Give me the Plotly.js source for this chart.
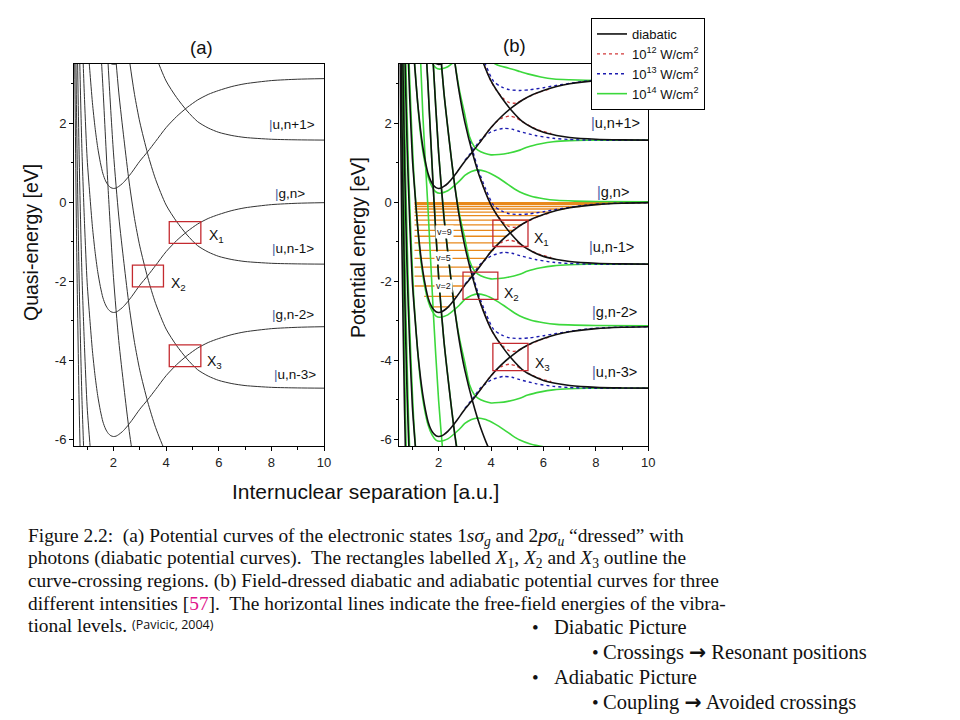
<!DOCTYPE html>
<html><head><meta charset="utf-8">
<script src="https://cdn.plot.ly/plotly-3.0.1.min.js"></script>
<style>body{margin:0;background:#fff}#chart{width:960px;height:720px}</style>
</head><body><div id="chart"></div>
<script>
// ---------- data ----------
// 1s sigma_g curve, energy relative to its dissociation limit (eV)
const G_R = [0.5,0.6,0.7,0.8,0.9,1.0,1.1,1.2,1.3,1.4,1.5,1.6,1.7,1.8,1.9,2.0,2.1,2.2,2.35,2.5,2.7,3.0,3.3,3.6,4.0,4.4,4.8,5.2,5.6,6.0,6.5,7.0,8.0,9.0,10.0];
const G_E = [18,11.5,7.3,4.5,2.6,1.1,0.2,-0.62,-1.25,-1.75,-2.13,-2.42,-2.6,-2.71,-2.77,-2.79,-2.78,-2.74,-2.66,-2.55,-2.38,-2.1,-1.86,-1.6,-1.25,-0.97,-0.74,-0.55,-0.41,-0.31,-0.21,-0.14,-0.06,-0.025,-0.01];
// 2p sigma_u curve, relative to its dissociation limit (eV)
const U_R = [0.5,0.6,0.8,1.0,1.2,1.4,1.6,1.8,2.0,2.2,2.4,2.6,2.8,3.0,3.3,3.6,4.0,4.4,4.8,5.2,5.6,6.0,6.5,7.0,8.0,9.0,10.0];
const U_E = [45,38,29,23.5,19.5,16.3,13.9,11.3,9.1,7.5,6.3,5.2,4.3,3.6,2.8,2.15,1.5,1.08,0.74,0.47,0.31,0.2,0.12,0.07,0.025,0.01,0.004];
// photon-dressed asymptotes (eV)
const G_LEVELS = [6.28, 3.14, 0, -3.14, -6.28, -9.42, -12.56];
const U_LEVELS = [1.57, -1.57, -4.71, -7.85, -11.0];
// 10^14 W/cm2 adiabatic shapes (relative to the g level of the well)
const GA_R = [0.55,0.65,0.75,0.85,0.95,1.05,1.15,1.3,1.45,1.6,1.75,1.9,2.04,2.2,2.35,2.6,2.8,3.0,3.25,3.5,3.8,4.14,4.5,4.8,5.1,5.5,6.0,6.5,7.2,8.0,10.0];
const GA_E = [17,10.8,6.7,4.0,2.2,0.75,-0.2,-1.35,-2.05,-2.5,-2.75,-2.88,-2.91,-2.89,-2.85,-2.72,-2.6,-2.46,-2.36,-2.32,-2.36,-2.47,-2.62,-2.76,-2.88,-2.98,-3.05,-3.09,-3.11,-3.12,-3.13];
const GA_LEVELS = [3.14, 0, -3.14, -6.28, -9.42, -12.56];
const GA_TOP_LEVEL = 6.28, GA_TOP_MAXR = 3.0;
const GB_R = [1.2,1.4,1.6,1.8,2.0,2.2,2.4,2.6,2.8,2.99,3.18,3.35,3.5,3.75,4.0,4.3,4.64,5.1,5.4,5.9,6.37,7.0,7.65,10.0];
const GB_E = [14.8,11.6,9.2,6.6,4.4,2.8,1.6,0.5,-0.32,-0.89,-1.48,-1.72,-1.82,-1.9,-1.94,-1.93,-1.9,-1.82,-1.74,-1.66,-1.61,-1.58,-1.57,-1.57];
const GB_LEVELS = [3.14, 0, -3.14, -6.28, -9.42];
const G1_R = [3.9,4.26,4.65,5.1,5.4,5.9,6.4,7.0,7.6,8.5,10];
const G1_E = [3.6,3.47,3.40,3.31,3.25,3.17,3.12,3.10,3.09,3.08,3.08];
// 10^13 and 10^12 W/cm2 branches at the one-photon crossings (relative to upper g level)
const BU_R = [3.2,3.5,3.8,4.1,4.4,4.7,5.1,5.5,6.0,6.5,7.1,7.65,8.5,10];
const BU_E = [1.55,0.85,0.33,-0.08,-0.22,-0.29,-0.31,-0.29,-0.24,-0.18,-0.12,-0.07,-0.03,-0.01];
const BL_R = [3.0,3.3,3.6,4.0,4.47,4.8,5.1,5.7,6.37,7.0,7.65,10];
const BL_E = [-2.08,-1.83,-1.56,-1.36,-1.27,-1.29,-1.35,-1.45,-1.52,-1.55,-1.565,-1.57];
const RU_R = [3.6,4.0,4.2,4.45,4.7,4.95,5.2,5.5,5.9,6.3];
const RU_E = [0.58,-0.08,-0.30,-0.50,-0.62,-0.63,-0.55,-0.45,-0.34,-0.26];
const RL_R = [3.6,3.9,4.2,4.45,4.7,4.95,5.2,5.5,5.9,6.3];
const RL_E = [-1.6,-1.33,-1.11,-1.0,-0.96,-1.0,-1.1,-1.22,-1.33,-1.40];
const CROSS_LEVELS = [3.14, 0, -3.14];
// vibrational levels (eV) and their extent in R
const VIB_E = [-2.65,-2.38,-2.12,-1.87,-1.64,-1.42,-1.22,-1.03,-0.86,-0.71,-0.57,-0.45,-0.34,-0.25,-0.17,-0.11,-0.06,-0.03,-0.01];
const VIB_L = [1.70,1.45,1.08,1.08,1.08,1.08,1.08,1.08,1.08,1.08,1.08,1.08,1.08,1.08,1.08,1.08,1.08,1.08,1.08];
const VIB_R = [2.42,2.68,2.98,3.29,3.58,3.85,4.1,4.35,4.6,4.85,5.15,5.45,5.85,6.3,6.8,7.4,8.2,9.2,10];
const X_TICKS = [2,4,6,8,10];
const Y_TICKS = [-6,-4,-2,0,2];
const Y_TICKTEXT = ['-6','-4','-2','0','2'];

// ---------- build ----------
const SANS = 'Liberation Sans, Arial, sans-serif';
const SERIF = 'Liberation Serif, Times New Roman, serif';
const C_GREEN = '#3cd83c', C_BLUE = '#1c1cb0', C_RED = '#d23a3a', C_ORANGE = '#e8891c';
const traces = [];
function add(xs, ys, xa, ya, line, extra) {
  traces.push(Object.assign({x: xs, y: ys, xaxis: xa, yaxis: ya, mode: 'lines',
    line: Object.assign({shape: 'spline', smoothing: 0.7}, line), showlegend: false, hoverinfo: 'skip'}, extra || {}));
}
function shifted(arr, L) { return arr.map(v => v + L); }

// panel (a): diabatic curves
G_LEVELS.forEach(L => add(G_R, shifted(G_E, L), 'x', 'y', {color: '#333', width: 1}));
U_LEVELS.forEach(L => add(U_R, shifted(U_E, L), 'x', 'y', {color: '#333', width: 1}));

// panel (b): vibrational levels
{
  const xs = [], ys = [];
  VIB_E.forEach((e, i) => { xs.push(VIB_L[i], VIB_R[i], null); ys.push(e, e, null); });
  traces.push({x: xs, y: ys, xaxis: 'x2', yaxis: 'y2', mode: 'lines', line: {color: C_ORANGE, width: 1.3}, showlegend: false, hoverinfo: 'skip'});
}
// 10^14 (green)
GA_LEVELS.forEach(L => add(GA_R, shifted(GA_E, L), 'x2', 'y2', {color: C_GREEN, width: 1.6}));
{
  const idx = GA_R.map((r, i) => i).filter(i => GA_R[i] <= GA_TOP_MAXR);
  add(idx.map(i => GA_R[i]), idx.map(i => GA_E[i] + GA_TOP_LEVEL), 'x2', 'y2', {color: C_GREEN, width: 1.6});
}
GB_LEVELS.forEach(L => add(GB_R, shifted(GB_E, L), 'x2', 'y2', {color: C_GREEN, width: 1.6}));
add(G1_R, G1_E, 'x2', 'y2', {color: C_GREEN, width: 1.6}, {showlegend: true, name: '10<sup>14</sup> W/cm<sup>2</sup>', legendrank: 4});
// 10^13 (blue dotted)
CROSS_LEVELS.forEach((L, k) => {
  add(BU_R, shifted(BU_E, L), 'x2', 'y2', {color: C_BLUE, width: 1.4, dash: 'dot'}, k === 0 ? {showlegend: true, name: '10<sup>13</sup> W/cm<sup>2</sup>', legendrank: 3} : {});
  add(BL_R, shifted(BL_E, L), 'x2', 'y2', {color: C_BLUE, width: 1.4, dash: 'dot'});
});
// 10^12 (red dotted)
CROSS_LEVELS.forEach((L, k) => {
  add(RU_R, shifted(RU_E, L), 'x2', 'y2', {color: C_RED, width: 1.3, dash: 'dot'}, k === 0 ? {showlegend: true, name: '10<sup>12</sup> W/cm<sup>2</sup>', legendrank: 2} : {});
  add(RL_R, shifted(RL_E, L), 'x2', 'y2', {color: C_RED, width: 1.3, dash: 'dot'});
});
// diabatic (black)
G_LEVELS.forEach((L, k) => add(G_R, shifted(G_E, L), 'x2', 'y2', {color: '#111', width: 1.6}, k === 1 ? {showlegend: true, name: 'diabatic', legendrank: 1} : {}));
U_LEVELS.forEach(L => add(U_R, shifted(U_E, L), 'x2', 'y2', {color: '#111', width: 1.6}));

// ---------- layout ----------
const W = 960, H = 720;
function P(px, py) { return {xref: 'paper', yref: 'paper', x: px / W, y: 1 - py / H}; }
function axisX(dom, anchor) {
  return {domain: dom, anchor: anchor, range: [0.5, 10], tickvals: X_TICKS, showline: true, mirror: true,
    linecolor: '#000', linewidth: 1, ticks: 'outside', ticklen: 4, tickcolor: '#000', showgrid: false, zeroline: false,
    tickfont: {family: SANS, size: 13, color: '#222'}, minor: {ticks: 'outside', ticklen: 2.5, dtick: 1, tick0: 0, tickcolor: '#000', showgrid: false}};
}
function axisY(anchor) {
  return {domain: [1 - 446 / H, 1 - 64 / H], anchor: anchor, range: [-6.17, 3.5], tickvals: Y_TICKS, ticktext: Y_TICKTEXT,
    showline: true, mirror: true, linecolor: '#000', linewidth: 1, ticks: 'outside', ticklen: 4, tickcolor: '#000',
    showgrid: false, zeroline: false, tickfont: {family: SANS, size: 13, color: '#222'},
    minor: {ticks: 'outside', ticklen: 2.5, dtick: 1, tick0: 0, tickcolor: '#000', showgrid: false}};
}
const ann = [];
function txt(pos, text, size, extra) {
  ann.push(Object.assign({}, pos, {text: text, showarrow: false, font: {family: SANS, size: size, color: '#111'}, xanchor: 'center', yanchor: 'middle'}, extra || {}));
}
txt(P(201.7, 48), '(a)', 18.5);
txt(P(514, 45), '(b)', 18.5);
txt(P(31, 243), 'Quasi-energy [eV]', 19.5, {textangle: -90});
txt(P(358, 248), 'Potential energy [eV]', 19.5, {textangle: -90});
txt(P(365, 491), 'Internuclear separation [a.u.]', 21);
const BAR = '<span style="color:#4a62a8">|</span>';
const STATES_A = [[8.77, 1.96, 'u,n+1'], [8.71, 0.23, 'g,n'], [8.82, -1.16, 'u,n-1'], [8.82, -2.85, 'g,n-2'], [8.9, -4.37, 'u,n-3']];
const STATES_B = [[8.73, 2.0, 'u,n+1'], [8.65, 0.27, 'g,n'], [8.6, -1.12, 'u,n-1'], [8.72, -2.77, 'g,n-2'], [8.72, -4.29, 'u,n-3']];
STATES_A.forEach(s => txt({xref: 'x', yref: 'y', x: s[0], y: s[1]}, BAR + s[2] + '&gt;', 13.5));
STATES_B.forEach(s => txt({xref: 'x2', yref: 'y2', x: s[0], y: s[1]}, BAR + s[2] + '&gt;', 14.5));
const XL = [['x','y',5.56,-0.86,1],['x','y',4.11,-2.07,2],['x','y',5.48,-4.04,3],['x2','y2',5.56,-0.92,1],['x2','y2',4.42,-2.32,2],['x2','y2',5.6,-4.1,3]];
XL.forEach(a => txt({xref: a[0], yref: a[1], x: a[2], y: a[3]}, 'X<sub>' + a[4] + '</sub>', 14, {xanchor: 'left'}));
[[2.23, -0.74, 'v=9'], [2.2, -1.42, 'v=5'], [2.2, -2.11, 'v=2']].forEach(v =>
  txt({xref: 'x2', yref: 'y2', x: v[0], y: v[1]}, v[2], 9, {bgcolor: '#fff', borderpad: 1}));

// caption
const CAP = [
  'Figure 2.2:&nbsp; (a) Potential curves of the electronic states 1<i>sσ</i><sub><i>g</i></sub> and 2<i>pσ</i><sub><i>u</i></sub> “dressed” with',
  'photons (diabatic potential curves).&nbsp; The rectangles labelled <i>X</i><sub>1</sub>, <i>X</i><sub>2</sub> and <i>X</i><sub>3</sub> outline the',
  'curve-crossing regions. (b) Field-dressed diabatic and adiabatic potential curves for three',
  'different intensities [<span style="color:#e0148c">57</span>].&nbsp; The horizontal lines indicate the free-field energies of the vibra-',
  'tional levels.'
];
const CAP_Y = [537, 559, 581, 603, 625];
CAP.forEach((t, i) => ann.push(Object.assign(P(26, CAP_Y[i]), {text: t, showarrow: false, xanchor: 'left', yanchor: 'middle', font: {family: SERIF, size: 19.4, color: '#111'}})));
ann.push(Object.assign(P(130, 624), {text: '(Pavicic, 2004)', showarrow: false, xanchor: 'left', yanchor: 'middle', font: {family: 'Open Sans, sans-serif', size: 12.5, color: '#111'}}));
// bullets
const ARROW = '<span style="font-family:DejaVu Sans;font-weight:bold">→</span>';
const BUL = [[530, 552, 627, 'Diabatic Picture'], [590, 601, 652, 'Crossings ' + ARROW + ' Resonant positions'], [530, 552, 677, 'Adiabatic Picture'], [590, 601, 702, 'Coupling ' + ARROW + ' Avoided crossings']];
BUL.forEach(b => {
  ann.push(Object.assign(P(b[0], b[2]), {text: '•', showarrow: false, xanchor: 'left', yanchor: 'middle', font: {family: SERIF, size: 19, color: '#111'}}));
  ann.push(Object.assign(P(b[1], b[2]), {text: b[3], showarrow: false, xanchor: 'left', yanchor: 'middle', font: {family: SERIF, size: 20.5, color: '#111'}}));
});

const BOX = '#c42a2f';
function rect(xr, yr, x0, x1, y0, y1) { return {type: 'rect', xref: xr, yref: yr, x0: x0, x1: x1, y0: y0, y1: y1, line: {color: BOX, width: 1.3}}; }
const shapes = [
  rect('x','y',4.12,5.32,-1.04,-0.49), rect('x','y',2.72,3.90,-2.14,-1.59), rect('x','y',4.12,5.32,-4.16,-3.61),
  rect('x2','y2',4.07,5.41,-1.12,-0.45), rect('x2','y2',2.93,4.26,-2.46,-1.77), rect('x2','y2',4.07,5.41,-4.26,-3.57)
];

const layout = {
  width: W, height: H, margin: {l: 0, r: 0, t: 0, b: 0, pad: 0}, paper_bgcolor: '#fff', plot_bgcolor: '#fff',
  xaxis: axisX([74 / W, 324 / W], 'y'), yaxis: axisY('x'),
  xaxis2: axisX([399.3 / W, 648.3 / W], 'y2'), yaxis2: axisY('x2'),
  showlegend: true,
  legend: {x: 591 / W, y: 1 - 18 / H, xanchor: 'left', yanchor: 'top', bordercolor: '#000', borderwidth: 1, bgcolor: '#fff',
    font: {family: SANS, size: 13, color: '#111'}, tracegroupgap: 0, itemwidth: 30, traceorder: 'normal'},
  annotations: ann, shapes: shapes
};
Plotly.newPlot('chart', traces, layout, {staticPlot: true, displayModeBar: false});
</script></body></html>
